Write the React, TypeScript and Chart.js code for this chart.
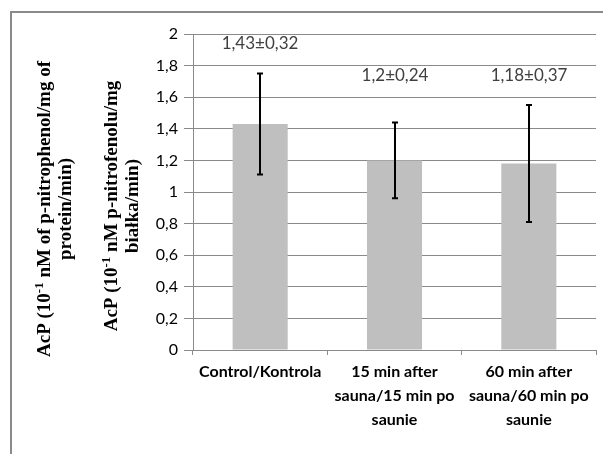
import React, { useEffect, useRef } from "react";
import { Chart, registerables } from "chart.js";
Chart.register(...registerables);

const categories: string[][] = [
  ["Control/Kontrola"],
  ["15 min after", "sauna/15 min po", "saunie"],
  ["60 min after", "sauna/60 min po", "saunie"],
];
const means = [1.43, 1.2, 1.18];
const sds = [0.32, 0.24, 0.37];
const labelAnchor = [1.94, 1.74, 1.74];
const yMin = 0;
const yMax = 2;
const yStep = 0.2;

const fmt = (v: number) => String(Math.round(v * 100) / 100).replace(".", ",");
const valueLabels = means.map((m, i) => `${fmt(m)}±${fmt(sds[i])}`);

type Seg = { t: string; sup?: boolean };
const titleA: Seg[][] = [
  [{ t: "AcP (10" }, { t: "-1", sup: true }, { t: " nM of p-nitrophenol/mg of" }],
  [{ t: "protein/min)" }],
];
const titleB: Seg[][] = [
  [{ t: "AcP (10" }, { t: "-1", sup: true }, { t: " nM p-nitrofenolu/mg" }],
  [{ t: "białka/min)" }],
];

const TITLE_FONT = 19;
const SUP_FONT = 13;

function drawRich(ctx: CanvasRenderingContext2D, line: Seg[], cx: number, cy: number) {
  const big = `bold ${TITLE_FONT}px "Liberation Serif"`;
  const small = `bold ${SUP_FONT}px "Liberation Serif"`;
  let total = 0;
  const widths = line.map((s) => {
    ctx.font = s.sup ? small : big;
    const w = ctx.measureText(s.t).width;
    total += w;
    return w;
  });
  ctx.save();
  ctx.translate(cx, cy);
  ctx.rotate(-Math.PI / 2);
  let x = -total / 2;
  ctx.textBaseline = "alphabetic";
  ctx.textAlign = "left";
  ctx.fillStyle = "#000";
  line.forEach((s, i) => {
    ctx.font = s.sup ? small : big;
    ctx.fillText(s.t, x, s.sup ? -1 : 6);
    x += widths[i];
  });
  ctx.restore();
}

const framePlugin = {
  id: "frame",
  beforeDraw(chart: any) {
    const ctx = chart.ctx;
    ctx.save();
    ctx.fillStyle = "#fff";
    ctx.fillRect(0, 0, chart.width, chart.height);
    ctx.fillStyle = "#8a8a8a";
    ctx.fillRect(10, 11, chart.width - 10, 2);
    ctx.fillRect(10, 11, 2, chart.height - 11);
    ctx.restore();
  },
  afterDraw(chart: any) {
    const ctx = chart.ctx;
    drawRich(ctx, titleA[0], 44, 209);
    drawRich(ctx, titleA[1], 65, 209);
    drawRich(ctx, titleB[0], 111, 206);
    drawRich(ctx, titleB[1], 132, 206);
  },
};

const errorPlugin = {
  id: "errbars",
  afterDatasetsDraw(chart: any) {
    const ctx = chart.ctx;
    const meta = chart.getDatasetMeta(0);
    const y = chart.scales.y;
    ctx.save();
    ctx.strokeStyle = "#000";
    ctx.lineWidth = 2;
    meta.data.forEach((bar: any, i: number) => {
      const x = Math.round(bar.x);
      const t = y.getPixelForValue(means[i] + sds[i]);
      const b = y.getPixelForValue(means[i] - sds[i]);
      ctx.beginPath();
      ctx.moveTo(x, t);
      ctx.lineTo(x, b);
      ctx.moveTo(x - 3, t);
      ctx.lineTo(x + 3, t);
      ctx.moveTo(x - 3, b);
      ctx.lineTo(x + 3, b);
      ctx.stroke();
      ctx.font = `17px Lato`;
      ctx.fillStyle = "#404040";
      ctx.textAlign = "center";
      ctx.textBaseline = "middle";
      ctx.fillText(valueLabels[i], x, y.getPixelForValue(labelAnchor[i]));
    });
    ctx.restore();
  },
};

export default function App() {
  const ref = useRef<HTMLCanvasElement>(null);
  useEffect(() => {
    if (!ref.current) return;
    const chart = new Chart(ref.current, {
      type: "bar",
      data: {
        labels: categories,
        datasets: [
          {
            data: means,
            backgroundColor: "#bfbfbf",
            borderWidth: 0,
            categoryPercentage: 1,
            barPercentage: 0.41,
          },
        ],
      },
      options: {
        animation: false,
        responsive: false,
        layout: { padding: { left: 150, top: 34, right: 7, bottom: 0 } },
        plugins: { legend: { display: false }, tooltip: { enabled: false } },
        scales: {
          x: {
            grid: {
              drawOnChartArea: false,
              drawTicks: true,
              tickLength: 5,
              color: "#8a8a8a",
              offset: true,
            },
            border: { color: "#8a8a8a" },
            ticks: {
              color: "#000",
              font: { family: "Lato", size: 16, weight: "bold", lineHeight: 1.5 },
              padding: 5,
              maxRotation: 0,
              autoSkip: false,
            },
            afterFit: (s: any) => {
              s.height = 104;
            },
          },
          y: {
            min: yMin,
            max: yMax,
            ticks: {
              stepSize: yStep,
              color: "#000",
              font: { family: "Lato", size: 16 },
              padding: 6,
              callback: (v: any) => fmt(Number(v)),
            },
            grid: { color: "#8a8a8a", tickLength: 9 },
            border: { color: "#8a8a8a" },
            afterFit: (s: any) => {
              s.width = 43;
            },
          },
        },
      },
      plugins: [framePlugin, errorPlugin],
    });
    return () => chart.destroy();
  }, []);
  return (
    <div style={{ position: "absolute", left: 0, top: 0, width: 603, height: 454 }}>
      <canvas ref={ref} width={603} height={454} style={{ display: "block" }} />
    </div>
  );
}
